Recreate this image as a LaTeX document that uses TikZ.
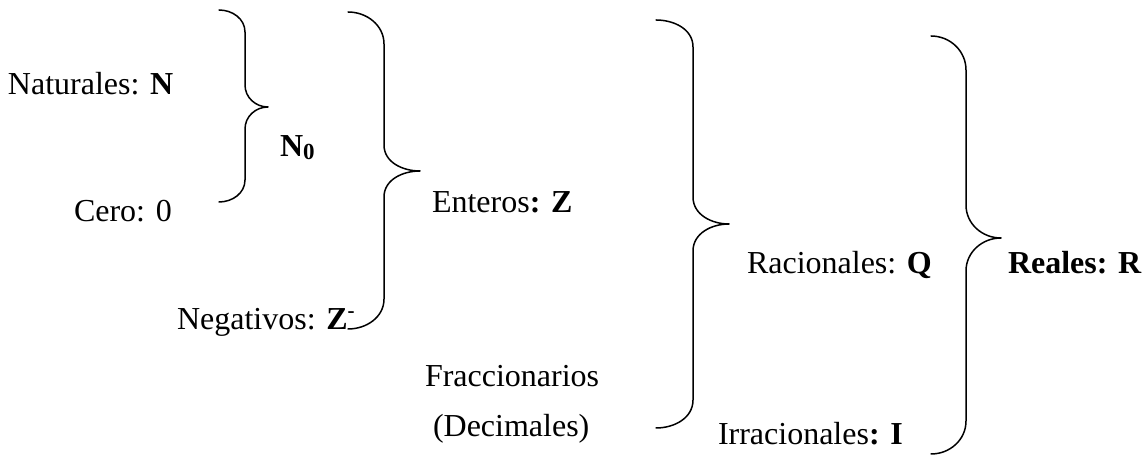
\documentclass[tikz,border=0pt]{standalone}
\usepackage{fontspec}
\setmainfont{Liberation Serif}
\begin{document}
\begin{tikzpicture}[x=1pt,y=1pt,
  lbl/.style={anchor=base west,inner sep=0pt,outer sep=0pt,font=\fontsize{32}{38}\selectfont},
  bracepath/.style={line width=1.5pt,line cap=round,line join=round}]
\useasboundingbox (0,0) rectangle (1146,457);
% texts
\node[lbl] (nat) at (8,362) {Naturales: \textbf{N}};
\node[lbl] (nzero) at (280,300) {\textbf{N\raisebox{-3pt}{\fontsize{23}{23}\selectfont 0}}};
\node[lbl] (cero) at (74,235) {Cero: 0};
\node[lbl] (ent) at (432,244) {Enteros\textbf{: Z}};
\node[lbl] (neg) at (177,127) {Negativos: \textbf{Z}\raisebox{12pt}{\fontsize{21}{21}\selectfont\textbf{-}}};
\node[lbl] (frac) at (425,70) {Fraccionarios};
\node[lbl] (dec) at (433,20) {(Decimales)};
\node[lbl] (rac) at (747,183) {Racionales: \textbf{Q}};
\node[lbl] (irr) at (718,12) {Irracionales\textbf{: I}};
\node[lbl] (real) at (1008,183) {\textbf{Reales: R}};
% brace 1 (N0)
\draw[bracepath] (219,447) to[out=0,in=90] (245,425) -- (245,372)
  to[out=-90,in=180] (268,350) to[out=180,in=90] (245,328) -- (245,277)
  to[out=-90,in=0] (219,255);
% brace 2 (Z)
\draw[bracepath] (348,445) to[out=0,in=90] (384,413) -- (384,312)
  to[out=-90,in=180] (420,286) to[out=180,in=90] (384,260) -- (384,158)
  to[out=-90,in=0] (348,128);
% brace 3 (Q)
\draw[bracepath] (656,437) to[out=0,in=90] (693,410) -- (693,260)
  to[out=-90,in=180] (729,233) to[out=180,in=90] (693,206) -- (693,57)
  to[out=-90,in=0] (656,29);
% brace 4 (R)
\draw[bracepath] (931,421) to[out=0,in=90] (966,387) -- (966,252)
  to[out=-90,in=180] (1001,219) to[out=180,in=90] (966,186) -- (966,36)
  to[out=-90,in=0] (931,3);
\end{tikzpicture}
\end{document}
